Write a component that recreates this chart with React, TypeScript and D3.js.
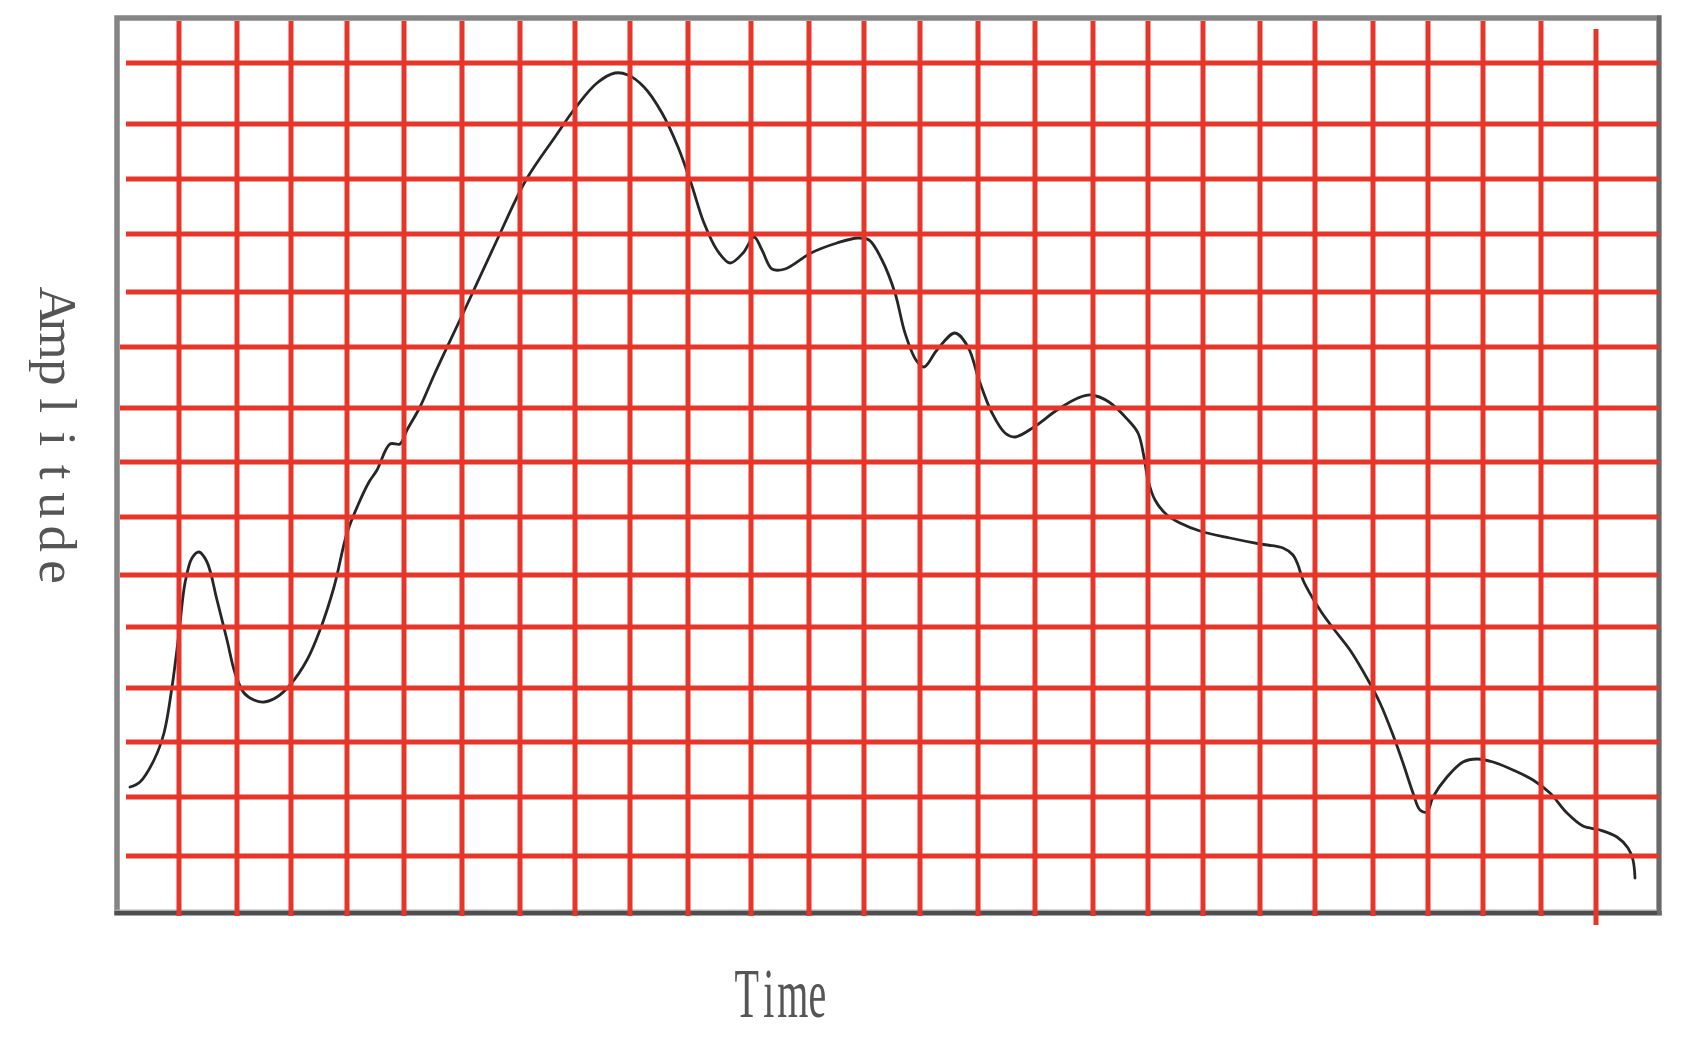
import React from 'react';
import * as d3 from 'd3';

// Sampled trace: time (ms from left edge of the plot) and amplitude (units above the bottom edge)
const timeValues = [
  13, 23, 37, 47, 55, 62, 68, 75, 82, 90, 100, 110, 118, 127, 137, 147, 160, 173, 190, 203,
  217, 230, 241, 252, 260, 273, 283, 290, 303, 318, 349, 380, 409, 438, 459, 480, 498, 511,
  527, 545, 561, 574, 587, 600, 613, 626, 637, 645, 655, 668, 694, 720, 741, 752, 765, 778,
  788, 799, 807, 820, 838, 851, 862, 875, 888, 898, 917, 940, 961, 974, 992, 1011, 1021,
  1027, 1031, 1038, 1050, 1063, 1083, 1113, 1143, 1166, 1176, 1181, 1186, 1195, 1205, 1216,
  1233, 1251, 1263, 1276, 1286, 1296, 1303, 1310, 1316, 1330, 1346, 1360, 1376, 1396, 1416,
  1433, 1450, 1466, 1483, 1500, 1511, 1516, 1518,
];
const amplitudeValues = [
  126, 131, 153, 180, 226, 280, 330, 355, 361, 351, 313, 273, 240, 220, 213, 211, 216, 228, 253, 283,
  326, 380, 408, 431, 443, 469, 469, 483, 506, 540, 606, 673, 733, 776, 806, 830, 840, 838,
  826, 800, 766, 730, 690, 663, 650, 660, 676, 663, 644, 644, 660, 670, 675, 673, 653, 620,
  580, 553, 546, 563, 580, 566, 533, 500, 480, 476, 486, 503, 515, 518, 511, 493, 480,
  456, 433, 413, 398, 390, 382, 375, 369, 365, 358, 348, 333, 316, 300, 285,
  263, 233, 210, 178, 150, 120, 103, 101, 116, 136, 151, 154, 151, 143, 133,
  120, 100, 87, 83, 76, 65, 53, 35,
];

// Grid lines (in the same data units)
const timeGridTicks = [
  62, 120, 174, 230, 287, 345, 403, 458, 513, 571, 634, 692, 747, 803, 861, 918, 976, 1031,
  1086, 1143, 1198, 1256, 1311, 1366, 1424, 1479,
];
const amplitudeGridTicks = [850, 789, 734, 679, 621, 566, 505, 451, 396, 338, 286, 225, 171, 116, 57];

const timeDomain = [0, 1542];
const amplitudeDomain = [0, 895];

const xAxisTitle = 'Time';
const yAxisTitle = 'Amplitude';

const W = 1686;
const H = 1044;
const frame = { left: 117, top: 18, right: 1659, bottom: 913 };
const RED = '#e8352a';

export default function App() {
  const x = d3.scaleLinear().domain(timeDomain).range([frame.left, frame.right]);
  const y = d3.scaleLinear().domain(amplitudeDomain).range([frame.bottom, frame.top]);

  const pts: [number, number][] = timeValues.map((t, i) => [t, amplitudeValues[i]]);
  const lineGen = d3
    .line<[number, number]>()
    .x((d) => x(d[0]))
    .y((d) => y(d[1]))
    .curve(d3.curveCatmullRom.alpha(0.5));
  const path = lineGen(pts) || '';

  // per-character positions for the monospaced-looking titles
  const ampStart = 305.7;
  const ampStep = 33.3;
  const ampXs = yAxisTitle.split('').map((_, i) => ampStart + i * ampStep).join(' ');
  const timeCenters = [746.7, 768.8, 792.8, 817.3];
  const timeBaseline = 1017;
  const timeScaleY = 1.72;
  const timeXs = xAxisTitle.split('').map((_, i) => timeCenters[i]).join(' ');

  return (
    <svg
      width={W}
      height={H}
      viewBox={`0 0 ${W} ${H}`}
      style={{ position: 'absolute', left: 0, top: 0, display: 'block', background: '#ffffff' }}
    >
      <rect x={0} y={0} width={W} height={H} fill="#ffffff" />

      {/* frame */}
      <rect
        x={frame.left}
        y={frame.top}
        width={frame.right - frame.left}
        height={frame.bottom - frame.top}
        fill="none"
        stroke="#858585"
        strokeWidth={5.5}
      />
      <line x1={frame.left - 2.5} x2={frame.right + 2.5} y1={frame.bottom} y2={frame.bottom} stroke="#4e4e4e" strokeWidth={4} />
      <line x1={frame.left - 2.5} x2={frame.right + 2.5} y1={frame.bottom - 3} y2={frame.bottom - 3} stroke="#b0b0b0" strokeWidth={1.2} />
      <line x1={frame.right} x2={frame.right} y1={frame.top - 2.5} y2={frame.bottom + 2} stroke="#6a6a6a" strokeWidth={4} />

      {/* the trace */}
      <path d={path} fill="none" stroke="#262626" strokeWidth={2.8} strokeLinejoin="round" strokeLinecap="round" />

      {/* red grid */}
      {amplitudeGridTicks.map((a, i) => {
        const toFrame = a > 330 && a < 570;
        return (
          <line
            key={'h' + i}
            x1={toFrame ? frame.left + 3 : frame.left + 9}
            x2={frame.right}
            y1={y(a)}
            y2={y(a)}
            stroke={RED}
            strokeWidth={5}
          />
        );
      })}
      {timeGridTicks.map((t, i) => {
        const last = i === timeGridTicks.length - 1;
        return (
          <line
            key={'v' + i}
            x1={x(t)}
            x2={x(t)}
            y1={last ? frame.top + 11 : frame.top + 3}
            y2={last ? frame.bottom + 12 : frame.bottom + 3}
            stroke={RED}
            strokeWidth={5}
          />
        );
      })}

      {/* axis titles */}
      <g transform="translate(40,0) rotate(90)">
        <text
          x={ampXs}
          y={0}
          textAnchor="middle"
          fontFamily="'Liberation Serif', 'DejaVu Serif', serif"
          fontSize={53}
          fill="#555555"
        >
          {yAxisTitle}
        </text>
      </g>
      <g transform={`translate(0,${timeBaseline}) scale(1,${timeScaleY})`}>
        <text
          x={timeXs}
          y={0}
          textAnchor="middle"
          fontFamily="'Liberation Serif', 'DejaVu Serif', serif"
          fontSize={40}
          fill="#555555"
        >
          {xAxisTitle}
        </text>
      </g>
    </svg>
  );
}
